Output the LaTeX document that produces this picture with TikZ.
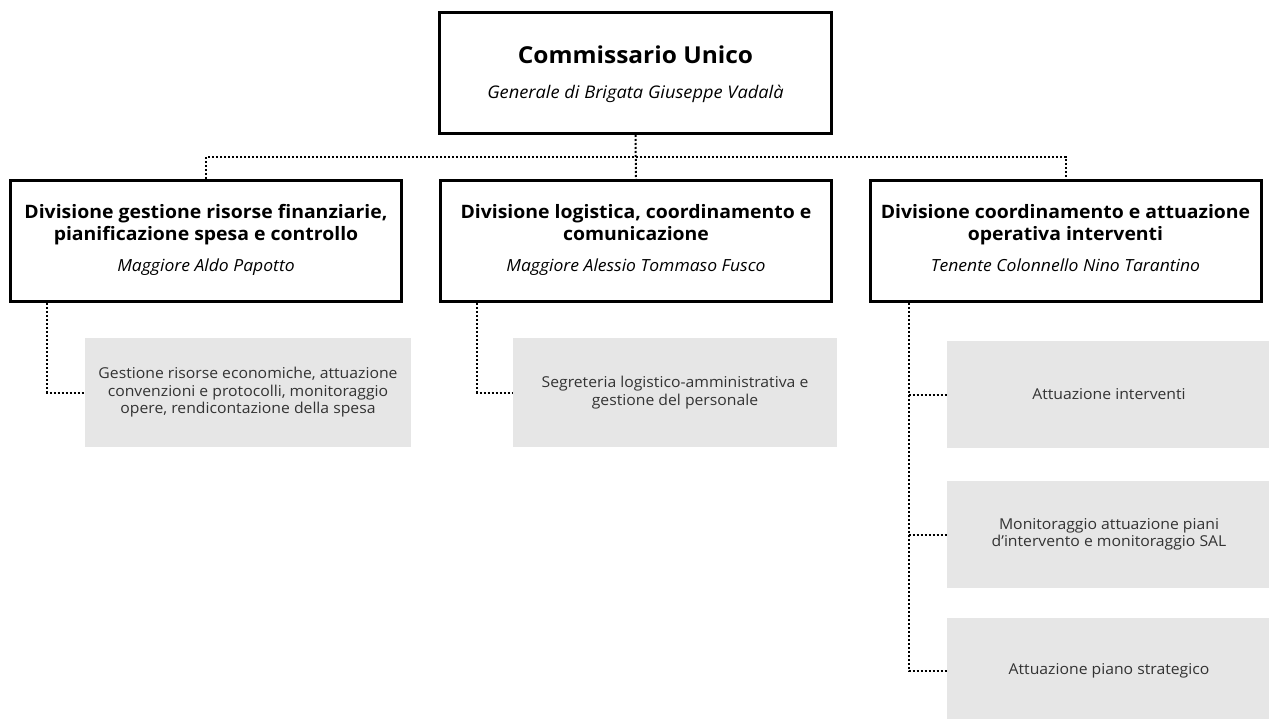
\documentclass[tikz,border=0pt]{standalone}
\usepackage{fontspec}
\setmainfont{Open Sans}[FakeStretch=1.05]
\definecolor{boxgray}{HTML}{E6E6E6}
\definecolor{txtgray}{HTML}{333333}
\begin{document}
\begin{tikzpicture}[x=1pt,y=-1pt,
  headbox/.style={draw=black,line width=3pt,fill=white,minimum width=392pt,minimum height=121pt,inner sep=0pt},
  divbox/.style={draw=black,line width=3pt,fill=white,minimum width=391pt,minimum height=121pt,inner sep=0pt},
  headtitle/.style={anchor=base,inner sep=0pt,font=\fontsize{23.3}{28}\selectfont\bfseries},
  headsub/.style={anchor=base,inner sep=0pt,font=\fontsize{17.4}{21}\selectfont\itshape},
  divtitle/.style={anchor=base,inner sep=0pt,align=center,font=\fontsize{18.5}{22.2}\selectfont\bfseries},
  divname/.style={anchor=base,inner sep=0pt,font=\fontsize{16.7}{20}\selectfont\itshape},
  graybox/.style={fill=boxgray,draw=none,minimum width=326pt,minimum height=109pt,align=center,inner sep=0pt,text=txtgray,font=\fontsize{15}{17.5}\selectfont},
  conn/.style={draw=black,line width=2pt,dash pattern=on 2pt off 2pt}]
\clip (0,0) rectangle (1269,719);
\fill[white] (0,0) rectangle (1269,719);
\coordinate (hub) at (635.5,157);
% boxes
\node[headbox] (top) at (635.5,73) {};
\node[headtitle] (topt) at ([yshift=9.7pt]top.center) {Commissario Unico};
\node[headsub] (tops) at ([yshift=-26pt]top.center) {Generale di Brigata Giuseppe Vadalà};
\node[divbox] (d1) at (206,241) {};
\node[divtitle] (d1t) at ([yshift=0.3pt]d1.center) {Divisione gestione risorse finanziarie,\\ pianificazione spesa e controllo};
\node[divname] (d1n) at ([yshift=-30.7pt]d1.center) {Maggiore Aldo Papotto};
\node[divbox] (d2) at (636,241) {};
\node[divtitle] (d2t) at ([yshift=0.3pt]d2.center) {Divisione logistica, coordinamento e\\ comunicazione};
\node[divname] (d2n) at ([yshift=-30.7pt]d2.center) {Maggiore Alessio Tommaso Fusco};
\node[divbox] (d3) at (1065.5,241) {};
\node[divtitle] (d3t) at ([yshift=0.3pt]d3.center) {Divisione coordinamento e attuazione\\ operativa interventi};
\node[divname] (d3n) at ([yshift=-30.7pt]d3.center) {Tenente Colonnello Nino Tarantino};
\node[graybox] (g1) at (248,392.5) {Gestione risorse economiche, attuazione\\ convenzioni e protocolli, monitoraggio\\ opere, rendicontazione della spesa};
\node[graybox,minimum width=324pt] (g2) at (675,392.5) {Segreteria logistico-amministrativa e\\ gestione del personale};
\node[graybox,minimum width=324pt,minimum height=107pt] (g3a) at (1109,394.5) {Attuazione interventi};
\node[graybox,minimum width=324pt,minimum height=107pt] (g3b) at (1109,534.5) {Monitoraggio attuazione piani\\ d’intervento e monitoraggio SAL};
\node[graybox,minimum width=324pt,minimum height=107pt] (g3c) at (1109,671) {Attuazione piano strategico};
% connectors
\draw[conn] (top.south) -- (d2.north);
\draw[conn] (d1.north) |- (hub) -| (d3.north);
\coordinate (v1) at ([xshift=38pt]d1.south west);
\coordinate (v2) at ([xshift=38pt]d2.south west);
\coordinate (v3) at ([xshift=40pt]d3.south west);
\draw[conn] (v1) |- (g1.west);
\draw[conn] (v2) |- (g2.west);
\draw[conn] (v3) |- (g3c.west);
\draw[conn] (v3 |- g3a.west) -- (g3a.west);
\draw[conn] (v3 |- g3b.west) -- (g3b.west);
\end{tikzpicture}
\end{document}
